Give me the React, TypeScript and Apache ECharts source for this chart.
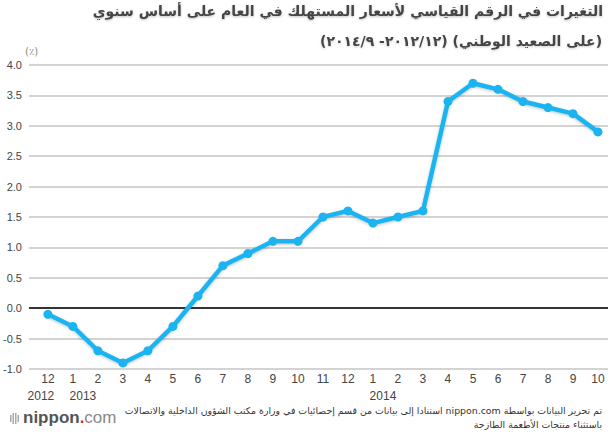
import React, { useEffect, useRef } from "react";
import * as echarts from "echarts";

const months = ["12", "1", "2", "3", "4", "5", "6", "7", "8", "9", "10", "11", "12", "1", "2", "3", "4", "5", "6", "7", "8", "9", "10"];
const years = ["2012", "2013", "", "", "", "", "", "", "", "", "", "", "", "2014", "", "", "", "", "", "", "", "", ""];
const cpiChange = [-0.1, -0.3, -0.7, -0.9, -0.7, -0.3, 0.2, 0.7, 0.9, 1.1, 1.1, 1.5, 1.6, 1.4, 1.5, 1.6, 3.4, 3.7, 3.6, 3.4, 3.3, 3.2, 2.9];

const RLE = "\u202B";
const PDF = "\u202C";
const titleLine1 = "التغيرات في الرقم القياسي لأسعار المستهلك في العام على أساس سنوي";
const titleLine2 = "(على الصعيد الوطني) (٢٠١٢/١٢- ٢٠١٤/٩)";
const unitLabel = "(٪)";
const note1 = "تم تحرير البيانات بواسطة nippon.com استنادا إلى بيانات من قسم إحصائيات في وزارة مكتب الشؤون الداخلية والاتصالات";
const note2 = "باستثناء منتجات الأطعمة الطازجة";

export default function App() {
  const ref = useRef<HTMLDivElement>(null);
  useEffect(() => {
    if (!ref.current) return;
    const chart = echarts.init(ref.current, null, { renderer: "svg" });
    const font = "'Liberation Sans', 'DejaVu Sans', sans-serif";
    const idx = months.map((_, i) => i);
    const yearIdx = idx.filter((i) => years[i]);
    const firstYear = yearIdx.slice(0, 1);
    const otherYears = yearIdx.slice(1);
    const seriesData = cpiChange.map((v, i) => [i, v]);
    const xMin = -0.757;
    const xMax = 22.4;
    const baseX = {
      type: "value",
      min: xMin,
      max: xMax,
      position: "bottom",
      axisLine: { show: false },
      axisTick: { show: false },
      splitLine: { show: false },
    };
    const yearAxis = (vals: number[], style: string, pad: number[]) => ({
      ...baseX,
      offset: 17,
      axisLabel: {
        color: "#444",
        fontSize: 12,
        margin: 1,
        customValues: vals,
        formatter: (v: number) => "{" + style + "|" + years[Math.round(v)] + "}",
        rich: { [style]: { fontSize: 12, lineHeight: 17, color: "#444", padding: pad } },
      },
    });
    chart.setOption({
      animation: false,
      backgroundColor: "#ffffff",
      textStyle: { fontFamily: font },
      grid: { left: 27, top: 65, width: 581, bottom: 63, containLabel: false },
      xAxis: [
        {
          ...baseX,
          axisLabel: {
            color: "#444",
            fontSize: 12,
            margin: 1,
            lineHeight: 17,
            customValues: idx,
            formatter: (v: number) => months[Math.round(v)],
          },
        },
        yearAxis(firstYear, "yl", [0, 14, 0, 0]),
        yearAxis(otherYears, "yr", [0, 0, 0, 20]),
      ],
      yAxis: {
        type: "value",
        min: -1,
        max: 4,
        interval: 0.5,
        axisLine: { show: false },
        axisTick: { show: false },
        axisLabel: {
          color: "#444",
          fontSize: 11,
          margin: 7,
          formatter: (v: number) => v.toFixed(1),
        },
        splitLine: { lineStyle: { color: "#c4c4c4", width: 1.5 } },
      },
      series: [
        {
          type: "line",
          xAxisIndex: 0,
          data: seriesData,
          symbol: "circle",
          symbolSize: 9,
          lineStyle: { color: "#1bb4f0", width: 4.5, shadowColor: "rgba(0,0,0,0.25)", shadowBlur: 3, shadowOffsetY: 1 },
          itemStyle: { color: "#1bb4f0" },
          markLine: {
            silent: true,
            symbol: "none",
            label: { show: false },
            lineStyle: { color: "#333", width: 2, type: "solid" },
            data: [{ yAxis: 0 }],
          },
          z: 5,
        },
      ],
      graphic: [
        {
          type: "text",
          right: 5,
          top: 4,
          style: {
            text: RLE + titleLine1 + PDF,
            fill: "#444",
            font: "bold 14px 'DejaVu Sans', sans-serif",
            textShadowColor: "rgba(0,0,0,0.25)",
            textShadowBlur: 2,
            textShadowOffsetY: 1,
          },
        },
        {
          type: "text",
          right: 6,
          top: 34,
          style: {
            text: RLE + titleLine2 + PDF,
            fill: "#444",
            font: "bold 14px 'DejaVu Sans', sans-serif",
            textShadowColor: "rgba(0,0,0,0.2)",
            textShadowBlur: 2,
            textShadowOffsetY: 1,
          },
        },
        {
          type: "text",
          left: 25,
          top: 46,
          style: { text: unitLabel, fill: "#888", font: "10px 'DejaVu Sans', sans-serif" },
        },
        {
          type: "text",
          right: 6,
          top: 406,
          style: { text: RLE + note1 + PDF, fill: "#333", font: "9.4px 'DejaVu Sans', sans-serif" },
        },
        {
          type: "text",
          right: 6,
          top: 420,
          style: { text: RLE + note2 + PDF, fill: "#333", font: "9.4px 'DejaVu Sans', sans-serif" },
        },
        {
          type: "group",
          left: 10,
          top: 409,
          children: [
            { type: "rect", shape: { x: 0, y: 6, width: 1.5, height: 7 }, style: { fill: "#aaa" } },
            { type: "rect", shape: { x: 2.5, y: 4, width: 1.5, height: 11 }, style: { fill: "#aaa" } },
            { type: "rect", shape: { x: 5, y: 4, width: 1.5, height: 11 }, style: { fill: "#aaa" } },
            { type: "rect", shape: { x: 7.5, y: 6, width: 1.5, height: 7 }, style: { fill: "#aaa" } },
            {
              type: "text",
              x: 13,
              y: 0,
              style: {
                text: "{a|nippon}{b|.}{c|com}",
                rich: {
                  a: { fill: "#555", font: "bold 17px 'Liberation Sans', sans-serif" },
                  b: { fill: "#d8282f", font: "bold 17px 'Liberation Sans', sans-serif" },
                  c: { fill: "#888", font: "17px 'Liberation Sans', sans-serif" },
                },
              },
            },
          ],
        },
      ],
    });
    return () => chart.dispose();
  }, []);
  return <div ref={ref} style={{ width: 608, height: 432, position: "absolute", left: 0, top: 0 }} />;
}
